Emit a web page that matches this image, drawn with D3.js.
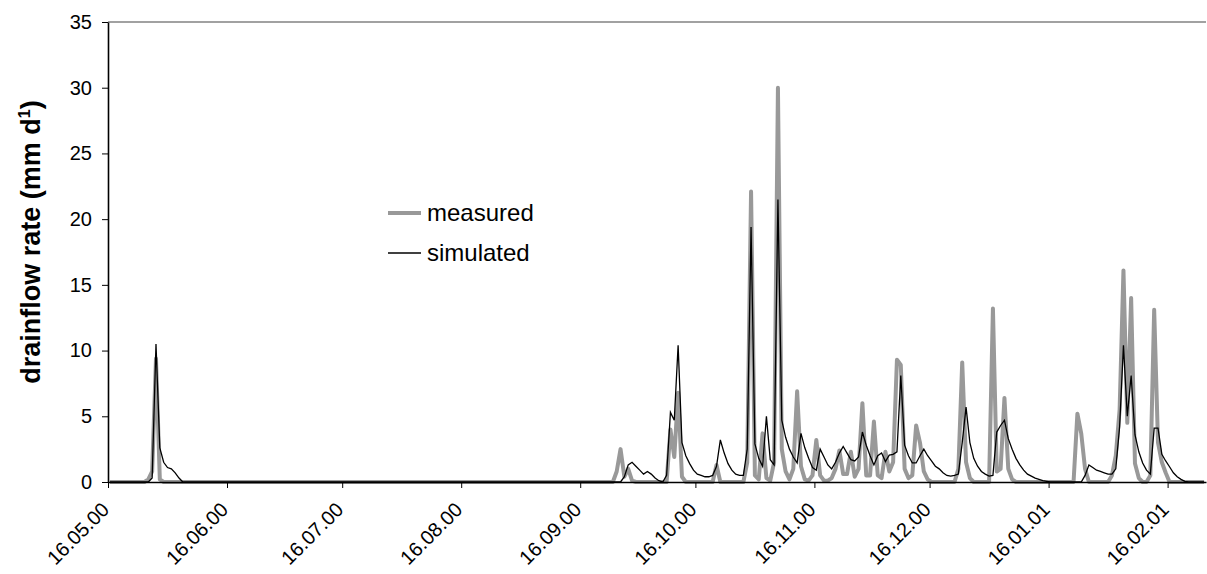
<!DOCTYPE html>
<html>
<head>
<meta charset="utf-8">
<script src="https://cdn.jsdelivr.net/npm/d3@7"></script>
<style>
body { margin: 0; background: #fff; }
text { font-family: "Liberation Sans", Arial, sans-serif; }
</style>
</head>
<body>
<script>
// days counted from 16.05.00, daily values logged at noon
const startDate = "16.05.00"
const endDate = "26.02.01"
const tickLabels = ["16.05.00", "16.06.00", "16.07.00", "16.08.00", "16.09.00", "16.10.00", "16.11.00", "16.12.00", "16.01.01", "16.02.01"]
const yTicks = [0, 5, 10, 15, 20, 25, 30, 35]

const measuredDay = [0, 9, 10, 11, 12, 13, 14,
  131, 132, 133, 134, 135, 136, 137, 145, 146, 147, 148, 149, 150, 157, 158, 159,
  165, 166, 167, 168, 169, 170, 171, 172, 173, 174, 175, 176, 177, 178, 179, 180, 181, 182, 183, 184, 185, 186, 187,
  188, 189, 190, 191, 192, 193, 194, 195, 196, 197, 198, 199, 200, 201, 202, 203, 204, 205, 206, 207, 208, 209, 210,
  211, 212, 213, 214, 220, 221, 222, 223, 224, 225, 229, 230, 231, 232, 233, 234, 235, 236,
  251, 252, 253, 254, 255, 260, 261, 262, 263, 264, 265, 266, 267, 268, 269, 270, 271, 272, 273, 274, 275, 276, 285]
const measuredValue = [0, 0, 0.2, 0.8, 9.4, 0.2, 0,
  0, 0.8, 2.5, 0.4, 1.0, 0.1, 0, 0, 4.0, 1.9, 6.8, 0.4, 0, 0, 1.3, 0,
  0, 1.5, 22.1, 0.5, 0.2, 3.7, 0.3, 0.1, 1.5, 30.0, 2.5, 0.8, 0.2, 1.0, 6.9, 1.2, 0.2, 0.1, 0.5, 3.2, 0.5, 0.1, 0.1,
  0.3, 1.0, 2.4, 0.6, 0.6, 2.3, 0.4, 1.0, 6.0, 0.5, 0.5, 4.6, 0.5, 0.3, 2.3, 0.8, 1.5, 9.3, 8.9, 1.0, 0.3, 0.5, 4.3,
  3.0, 0.8, 0.2, 0, 0, 1.0, 9.1, 1.5, 0.3, 0, 0, 13.2, 0.8, 1.0, 6.4, 1.0, 0.2, 0,
  0, 5.2, 3.7, 1.0, 0, 0, 0.5, 2.0, 5.5, 16.1, 4.5, 14.0, 1.4, 0.3, 0, 0, 0.5, 13.1, 3.0, 1.5, 0.7, 0, 0]

const simulatedDay = [0, 10, 11, 12, 13, 14, 15, 16, 17, 18, 19,
  133, 134, 135, 136, 137, 138, 139, 140, 141, 142, 143, 144, 145, 146, 147, 148, 149, 150, 151, 152, 153, 154, 155,
  156, 157, 158, 159, 160, 161, 162, 163, 164, 165, 166, 167, 168, 169, 170, 171, 172, 173, 174, 175, 176, 177, 178,
  179, 180, 181, 182, 183, 184, 185, 186, 187, 188, 189, 190, 191, 192, 193, 194, 195, 196, 197, 198, 199, 200, 201,
  202, 203, 204, 205, 206, 207, 208, 209, 210, 211, 212, 213, 214, 215, 216, 217, 218, 219, 220, 221, 222, 223, 224,
  225, 226, 227, 228, 229, 230, 231, 232, 233, 234, 235, 236, 237, 238, 239, 240, 241, 242, 243, 244, 245,
  253, 254, 255, 256, 257, 258, 259, 260, 261, 262, 263, 264, 265, 266, 267, 268, 269, 270, 271, 272, 273, 274, 275,
  276, 277, 278, 279, 280, 281, 285]
const simulatedValue = [0, 0, 0.3, 10.5, 2.6, 1.5, 1.1, 1.0, 0.7, 0.3, 0,
  0, 0.4, 1.3, 1.5, 1.2, 0.9, 0.6, 0.8, 0.6, 0.3, 0.1, 0, 0.5, 5.3, 4.7, 10.4, 3.0, 2.0, 1.4, 0.9, 0.6, 0.5, 0.4,
  0.4, 0.5, 1.2, 3.2, 2.2, 1.4, 0.9, 0.6, 0.5, 0.5, 2.5, 19.4, 2.9, 1.8, 1.2, 5.0, 1.7, 1.3, 21.5, 4.7, 3.4, 2.5, 1.9,
  1.45, 3.7, 2.6, 1.8, 1.1, 0.9, 2.5, 1.9, 1.3, 1.0, 1.5, 2.2, 2.7, 2.2, 1.7, 1.6, 1.9, 3.8, 2.8, 2.0, 1.3, 2.0, 2.2,
  1.55, 2.05, 2.1, 2.3, 8.1, 2.8, 2.0, 1.45, 1.45, 2.0, 2.5, 2.0, 1.6, 1.2, 1.0, 0.7, 0.5, 0.45, 0.5, 0.6, 3.0, 5.7, 3.0,
  1.8, 1.2, 0.8, 0.6, 0.45, 0.5, 3.8, 4.3, 4.7, 3.3, 2.5, 1.8, 1.3, 0.9, 0.6, 0.45, 0.3, 0.2, 0.1, 0.05, 0,
  0, 0.5, 1.3, 1.1, 0.9, 0.8, 0.7, 0.6, 0.6, 1.0, 4.2, 10.4, 5.0, 8.1, 3.6, 2.3, 1.45, 0.9, 0.6, 4.1, 4.1, 2.1, 1.6,
  1.16, 0.7, 0.4, 0.2, 0.05, 0, 0]

const legendNames = ["measured", "simulated"]

const width = 1207
const height = 574
const plotL = 108
const plotR = 1206
const plotT = 22
const plotB = 482

const parseDate = d3.timeParse("%d.%m.%y")
const t0 = parseDate(startDate)

let svg = d3.select("body")
  .append("svg")
  .attr("width", width)
  .attr("height", height)

let x = d3.scaleTime()
  .domain([t0, parseDate(endDate)])
  .range([plotL, plotR])

let y = d3.scaleLinear()
  .domain([0, 35])
  .range([plotB, plotT])

let toPoints = (days, vals) => days.map((d, i) => [d3.timeHour.offset(t0, d * 24 + 12), vals[i]])

let line = d3.line()
  .x(d => x(d[0]))
  .y(d => y(d[1]))

// top border of the plot area
svg.append("line")
  .attr("x1", plotL).attr("x2", plotR)
  .attr("y1", plotT).attr("y2", plotT)
  .attr("stroke", "#444")
  .attr("stroke-width", 1.2)

svg.append("path")
  .datum(toPoints(measuredDay, measuredValue))
  .attr("fill", "none")
  .attr("stroke", "#999")
  .attr("stroke-width", 4)
  .attr("stroke-linejoin", "round")
  .attr("d", line)

svg.append("path")
  .datum(toPoints(simulatedDay, simulatedValue))
  .attr("fill", "none")
  .attr("stroke", "#000")
  .attr("stroke-width", 1.3)
  .attr("d", line)

// axes
let yAxis = svg.append("g")
  .attr("transform", `translate(${plotL},0)`)
  .call(d3.axisLeft(y).tickValues(yTicks).tickSize(6).tickSizeOuter(0).tickPadding(10))
yAxis.select(".domain").attr("stroke-width", 1.6)
yAxis.selectAll("text").style("font-size", "20px").attr("fill", "#000")

let xAxis = svg.append("g")
  .attr("transform", `translate(0,${plotB})`)
  .call(d3.axisBottom(x)
    .tickValues(tickLabels.map(parseDate))
    .tickFormat(d3.timeFormat("%d.%m.%y"))
    .tickSize(6)
    .tickSizeOuter(0))
xAxis.select(".domain").attr("stroke-width", 1.6)
xAxis.selectAll("text")
  .style("font-size", "20px")
  .attr("fill", "#000")
  .attr("text-anchor", "end")
  .attr("transform", "translate(-3,24) rotate(-45)")
  .attr("dy", "0.35em")
  .attr("y", 0)
  .attr("x", 0)

// y axis title with superscript
let title = svg.append("text")
  .attr("transform", "translate(40,242) rotate(-90)")
  .attr("text-anchor", "middle")
  .style("font-size", "27px")
  .style("font-weight", "bold")
title.append("tspan").text("drainflow rate (mm d")
title.append("tspan").attr("dy", "-0.6em").style("font-size", "16px").text("1")
title.append("tspan").attr("dy", "0.36em").text(")")

// legend
let legend = svg.append("g")
legend.selectAll("line")
  .data(legendNames)
  .enter()
  .append("line")
  .attr("x1", 388).attr("x2", 421)
  .attr("y1", (d, i) => 213 + i * 40)
  .attr("y2", (d, i) => 213 + i * 40)
  .attr("stroke", (d, i) => i == 0 ? "#999" : "#000")
  .attr("stroke-width", (d, i) => i == 0 ? 4 : 1.3)
legend.selectAll("text")
  .data(legendNames)
  .enter()
  .append("text")
  .attr("x", 427)
  .attr("y", (d, i) => 213 + i * 40)
  .attr("dy", "0.35em")
  .style("font-size", "24px")
  .text(d => d)
</script>
</body>
</html>
